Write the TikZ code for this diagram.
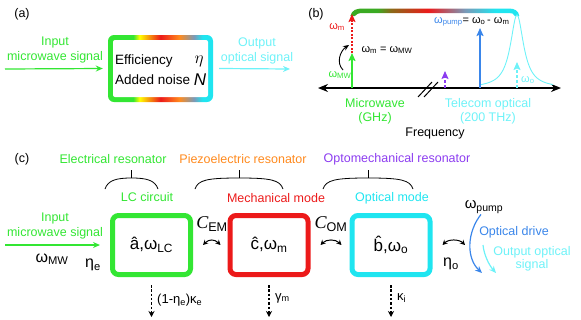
\documentclass[tikz,border=0pt]{standalone}
\usepackage{fontspec}
\setmainfont{Liberation Sans}
\newfontfamily\seriffam{Liberation Serif}
\usetikzlibrary{arrows.meta, positioning}
\definecolor{mw-green}{HTML}{33E633}
\definecolor{opt-cyan}{HTML}{1FE5F0}
\definecolor{light-cyan}{HTML}{6EF2F8}
\definecolor{mech-red}{HTML}{EC1A1A}
\definecolor{piezo-orange}{HTML}{FF8A1E}
\definecolor{opto-purple}{HTML}{8C3CF0}
\definecolor{pump-blue}{HTML}{3A86EA}
\definecolor{band-green}{HTML}{3AAA22}
\definecolor{band-olive}{HTML}{8A6A18}
\definecolor{band-slate}{HTML}{7A9AB8}
\pgfdeclarehorizontalshading{conv-grad}{100bp}{color(0bp)=(mw-green); color(37bp)=(mw-green);
  color(40bp)=(yellow); color(50bp)=(mech-red); color(59bp)=(piezo-orange);
  color(66bp)=(band-slate); color(70bp)=(opt-cyan); color(100bp)=(opt-cyan)}
\pgfdeclarehorizontalshading{band-grad}{100bp}{color(0bp)=(band-green); color(33bp)=(band-green);
  color(37bp)=(band-olive); color(48bp)=(mech-red); color(59bp)=(band-slate);
  color(68bp)=(opt-cyan); color(100bp)=(opt-cyan)}

\begin{document}
\begin{tikzpicture}[x=1pt, y=-1pt,
      every node/.style={inner sep=0pt, font=\fontsize{12.5}{15}\selectfont},
      big/.style={font=\fontsize{16}{18}\selectfont},
      small/.style={font=\fontsize{11}{13}\selectfont},
      tip/.style={-{Stealth[length=7pt, width=6pt]}, line width=1.2pt},
      vtip/.style={-{Stealth[length=8pt, width=7pt, inset=1.5pt]}, line width=1.6pt},
      dbl/.style={{Stealth[length=5pt, width=5pt]}-{Stealth[length=5pt, width=5pt]}, line width=1pt},
      loss/.style={-{Stealth[length=6pt, width=6pt]}, dash pattern=on 2.5pt off 1.8pt, line width=1.3pt},
      mode/.style={draw, line width=5pt, rounded corners=6pt,
          minimum width=78pt, minimum height=59pt, fill=white,
          font=\fontsize{17}{19}\selectfont}]
    \useasboundingbox (0,0) rectangle (581,319);
    % (a) converter
    \node (lbla) at (22,14) {(a)};
    \node[text=mw-green, align=center] (inA) at (55,50) {Input\\microwave signal};
    \shade[shading=conv-grad, rounded corners=6pt] (108,35) rectangle (213,102);
    \node[fill=white, rounded corners=2pt,
          minimum width=95pt, minimum height=57pt] (conv) at (160.5,68.5) {};
    \node[anchor=west, font=\fontsize{13.5}{15}\selectfont] (eff) at (115,61) {Efficiency};
    \node[anchor=west, font=\fontsize{13.5}{15}\selectfont] (noise) at (115,80) {Added noise};
    \node[font=\fontsize{19}{20}\selectfont] (etaA) at (199,61) {$\eta$};
    \node[font=\fontsize{17}{19}\selectfont\itshape] (NA) at (200,80) {N};
    \coordinate (inAs) at (5,69);
    \coordinate (outAe) at (290,69);
    \draw[tip, mw-green] (inAs) -- ([xshift=-10pt]conv.west);
    \draw[tip, light-cyan] ([xshift=11pt]conv.east) -- (outAe);
    \node[text=light-cyan, align=center] (outA) at (257,51) {Output\\optical signal};

    % (b) frequency axis
    \node (lblb) at (316,14) {(b)};
    \coordinate (axL) at (318,88);
    \coordinate (axR) at (561,88);
    \draw[{Stealth[length=10pt, width=8pt]}-{Stealth[length=10pt, width=8pt]},
          line width=1.3pt] (axL) -- (axR);
    \draw[line width=1pt] (418,97) -- (432,82) (424,97) -- (438,82);
    \shade[shading=band-grad] (350.3,16) .. controls (352,10) and (356,8.5) .. (363,8.5)
        -- (509,8.5) .. controls (515,8.5) and (518.5,11) .. (519.3,16)
        -- (514.7,16) .. controls (514,13.5) and (512,13) .. (509,13)
        -- (363,13) .. controls (359,13) and (356,14) .. (354.7,16) -- cycle;
    \draw[light-cyan, line width=0.9pt] plot[domain=481:553, samples=120]
        (\x, {88-73/(1+((\x-517)/8)^2)});
    \coordinate (mw0) at (352,88);
    \coordinate (mw1) at (352,53);
    \coordinate (mm1) at (352,14);
    \coordinate (pu0) at (480,88);
    \coordinate (pu1) at (480,28);
    \coordinate (pp0) at (445,88);
    \coordinate (pp1) at (445,71);
    \coordinate (oo0) at (517,88);
    \coordinate (oo1) at (517,62);
    \draw[vtip, mw-green] (mw0) -- (mw1);
    \draw[vtip, mech-red, dash pattern=on 2pt off 1.5pt] (mw1) -- (mm1);
    \draw[vtip, pump-blue] (pu0) -- (pu1);
    \draw[vtip, opto-purple, line width=1.2pt, dash pattern=on 3pt off 2pt] (pp0) -- (pp1);
    \draw[vtip, light-cyan, line width=1.2pt, dash pattern=on 3pt off 2pt] (oo0) -- (oo1);
    \draw[-{Stealth[length=6pt, width=5pt]}, line width=0.9pt]
        (343,70) .. controls (336,63) and (340,51) .. (349,45);
    \node[small, text=mw-green] (wmw) at (340,75) {ω\textsubscript{MW}};
    \node[small, text=mech-red] (wm) at (337,27) {ω\textsubscript{m}};
    \node[small] (match) at (387,50) {ω\textsubscript{m} = ω\textsubscript{MW}};
    \node[small, anchor=west] (pumpeq) at (434,22)
        {\textcolor{pump-blue}{ω\textsubscript{pump}}= ω\textsubscript{o}\,- ω\textsubscript{m}};
    \node[small, text=light-cyan, anchor=west] (wo) at (521,80) {ω\textsubscript{o}};
    \node[text=mw-green, align=center, font=\fontsize{12.5}{14}\selectfont] (mwband) at (375,111) {Microwave\\(GHz)};
    \node[text=light-cyan, align=center, font=\fontsize{12.5}{14}\selectfont] (optband) at (488,111) {Telecom optical\\(200 THz)};
    \node (freq) at (435,133) {Frequency};

    % (c) transducer modes
    \node (lblc) at (22,159) {(c)};
    \node[text=mw-green] (elres) at (113,159) {Electrical resonator};
    \node[text=piezo-orange] (pzres) at (243,159) {Piezoelectric resonator};
    \node[text=opto-purple] (omres) at (397,159) {Optomechanical resonator};
    \foreach \l/\r in {105/158, 195/283, 323/413} {
      \draw[line width=0.8pt] (\l,189) .. controls ({\l+3},180) and ({\l+12},178) .. ({(\l+\r)/2},178)
          .. controls ({\r-12},178) and ({\r-3},180) .. (\r,189);
      \draw[line width=0.8pt] ({(\l+\r)/2},178) -- ({(\l+\r)/2},170);
    }
    \node[text=mw-green] (lcname) at (147,197) {LC circuit};
    \node[text=mech-red] (mechname) at (276,198) {Mechanical mode};
    \node[text=opt-cyan] (optname) at (392,198) {Optical mode};
    \node[mode, draw=mw-green] (lc) at (151.5,245) {â,ω\textsubscript{LC}};
    \node[mode, draw=mech-red] (mech) at (269,245) {ĉ,ω\textsubscript{m}};
    \node[mode, draw=opt-cyan] (opt) at (391,245) {\^{b},ω\textsubscript{o}};
    \node[font=\fontsize{18}{20}\selectfont] (cem) at (212,224) {{\seriffam\itshape C}\textsubscript{EM}};
    \node[font=\fontsize{18}{20}\selectfont] (com) at (331,224) {{\seriffam\itshape C}\textsubscript{OM}};
    \draw[dbl] ([xshift=10pt]lc.east) .. controls +(6,-6) and +(-6,-6) .. ([xshift=-7pt]mech.west);
    \draw[dbl] ([xshift=10pt]mech.east) .. controls +(6,-6) and +(-6,-6) .. ([xshift=-8pt]opt.west);
    \coordinate (drive) at (465,245);
    \draw[dbl] ([xshift=10pt]opt.east) .. controls +(6,-6) and +(-6,-6) .. (drive);
    \node[big] (etao) at (451,264) {η\textsubscript{o}};
    % input and output
    \node[text=mw-green, align=center] (inC) at (55,226) {Input\\microwave signal};
    \coordinate (inCs) at (5,245);
    \draw[tip, mw-green] (inCs) -- ([xshift=-10pt]lc.west);
    \node[big] (wmwc) at (52,259) {ω\textsubscript{MW}};
    \node[big] (etae) at (93,265) {η\textsubscript{e}};
    \node[font=\fontsize{15}{17}\selectfont] (pump) at (484,207) {ω\textsubscript{pump}};
    \coordinate (pumpend) at (482,273);
    \coordinate (outCs) at (483,245);
    \coordinate (outCe) at (496,273);
    \draw[-{Stealth[length=7pt, width=6pt]}, line width=1.2pt, pump-blue]
        ([xshift=-3pt, yshift=-1pt]pump.south) .. controls (467,232) and (466,258) .. (pumpend);
    \draw[-{Stealth[length=7pt, width=6pt]}, line width=1.2pt, light-cyan]
        (outCs) .. controls (484,255) and (489,265) .. (outCe);
    \node[text=pump-blue] (drivelbl) at (514,232) {Optical drive};
    \node[text=light-cyan, align=center, font=\fontsize{12.5}{13.5}\selectfont] (outC) at (532,259) {Output optical\\signal};
    % losses
    \draw[loss] ([yshift=-8pt]lc.south) -- ++(0,32);
    \draw[loss] ([yshift=-8pt]mech.south) -- ++(0,32);
    \draw[loss] ([yshift=-8pt]opt.south) -- ++(0,32);
    \node[anchor=west, font=\fontsize{13}{15}\selectfont] (kape) at (157,300) {(1-η\textsubscript{e})κ\textsubscript{e}};
    \node[anchor=west, font=\fontsize{13}{15}\selectfont] (gamm) at (275,298) {γ\textsubscript{m}};
    \node[anchor=west, font=\fontsize{13}{15}\selectfont] (kapi) at (397,298) {κ\textsubscript{i}};
  \end{tikzpicture}
\end{document}
